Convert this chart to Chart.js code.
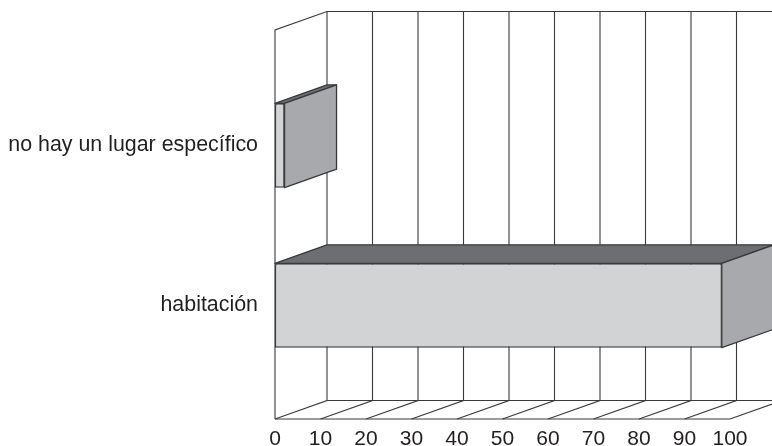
<!DOCTYPE html>
<html>
<head>
<meta charset="utf-8">
<style>
	html, body { margin: 0; padding: 0; background: #fff; }
	canvas { display: block; }
</style>
<script src="https://cdn.jsdelivr.net/npm/chart.js@4/dist/chart.umd.js"></script>
</head>
<body>
<canvas id="myChart" width="772" height="446"></canvas>
<script>
var categories = ['no hay un lugar específico', 'habitación'];
var percentValues = [2.1, 98.2];
var xTicks = [0, 10, 20, 30, 40, 50, 60, 70, 80, 90, 100];

// 3D look: how far the back wall sits from the front plane
var depthX = 52;
var depthY = 18.5;
var wallAbove = 35.5;
var wallBelow = 33.5;

var lineColor = '#3a3a3c';
var faceColor = '#d1d3d4';
var sideColor = '#a7a9ac';
var topColor = '#6d6e71';

function poly(ctx, pts, fill) {
	ctx.beginPath();
	ctx.moveTo(pts[0][0], pts[0][1]);
	for (var i = 1; i < pts.length; i++) {
		ctx.lineTo(pts[i][0], pts[i][1]);
	}
	if (fill) {
		ctx.closePath();
		ctx.fillStyle = fill;
		ctx.fill();
	}
	ctx.stroke();
}

var walls3d = {
	id: 'walls3d',
	beforeDatasetsDraw: function(chart) {
		var ctx = chart.ctx;
		var x = chart.scales.x;
		var area = chart.chartArea;
		var frontTop = area.top - wallAbove;
		var frontBottom = area.bottom + wallBelow;
		var backTop = frontTop - depthY;
		var backBottom = frontBottom - depthY;
		var left = x.getPixelForValue(xTicks[0]);
		var right = x.getPixelForValue(xTicks[xTicks.length - 1]);

		ctx.save();
		ctx.strokeStyle = lineColor;
		ctx.lineWidth = 1.1;

		xTicks.forEach(function(v) {
			var px = x.getPixelForValue(v);
			poly(ctx, [[px + depthX, backTop], [px + depthX, backBottom], [px, frontBottom]]);
		});
		poly(ctx, [[left, frontBottom], [left, frontTop], [left + depthX, backTop], [right + depthX, backTop]]);
		poly(ctx, [[left, frontBottom], [right, frontBottom]]);
		poly(ctx, [[left + depthX, backBottom], [right + depthX, backBottom]]);
		ctx.restore();
	},
	afterDatasetsDraw: function(chart) {
		var ctx = chart.ctx;
		ctx.save();
		ctx.strokeStyle = lineColor;
		ctx.lineWidth = 1.3;
		ctx.lineJoin = 'round';
		chart.getDatasetMeta(0).data.forEach(function(bar) {
			var p = bar.getProps(['x', 'y', 'base', 'height'], true);
			var top = p.y - p.height / 2;
			var bottom = p.y + p.height / 2;
			poly(ctx, [[p.base, top], [p.base + depthX, top - depthY], [p.x + depthX, top - depthY], [p.x, top]], topColor);
			poly(ctx, [[p.x, top], [p.x + depthX, top - depthY], [p.x + depthX, bottom - depthY], [p.x, bottom]], sideColor);
		});
		ctx.restore();
	}
};

var chart = new Chart(document.getElementById('myChart').getContext('2d'), {
	type: 'bar',
	data: {
		labels: categories,
		datasets: [
			{
				data: percentValues,
				backgroundColor: faceColor,
				borderColor: lineColor,
				borderWidth: 1.4,
				borderSkipped: false,
				categoryPercentage: 84.4 / 160,
				barPercentage: 1
			}
		]
	},
	options: {
		indexAxis: 'y',
		responsive: false,
		animation: false,
		layout: { padding: { top: 65.5, right: 42 } },
		plugins: {
			legend: { display: false },
			title: { display: false },
			tooltip: { enabled: false }
		},
		scales: {
			x: {
				min: 0,
				max: 100,
				grid: { display: false, drawTicks: false },
				border: { display: false },
				afterBuildTicks: function(scale) {
					scale.ticks = xTicks.map(function(v) {
						return { value: v };
					});
				},
				afterFit: function(scale) {
					scale.height = 60.5;
					// the big tick padding should not eat the plot width
					scale.paddingRight = 0;
				},
				ticks: {
					autoSkip: false,
					maxRotation: 0,
					padding: 41,
					color: '#231f20',
					font: { family: 'Liberation Sans', size: 21 }
				}
			},
			y: {
				grid: { display: false, drawTicks: false },
				border: { display: false },
				afterFit: function(scale) {
					scale.width = 275;
				},
				ticks: {
					padding: 17,
					color: '#231f20',
					font: { family: 'Liberation Sans', size: 21.4 }
				}
			}
		}
	},
	plugins: [walls3d]
});
</script>
</body>
</html>
